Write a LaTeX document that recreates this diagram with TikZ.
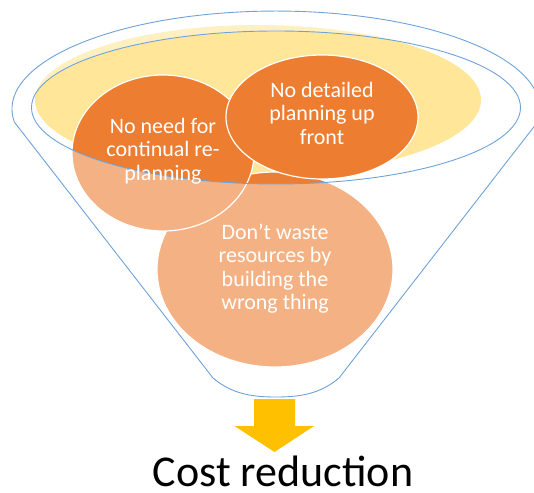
\documentclass[tikz,border=0pt]{standalone}
\usepackage{fontspec}
\setmainfont{Carlito}
\definecolor{accentblue}{RGB}{111,163,216}
\definecolor{deeporange}{RGB}{237,125,49}
\definecolor{paleyellow}{RGB}{255,230,153}
\definecolor{arrowgold}{RGB}{255,192,0}
\begin{document}
\begin{tikzpicture}[x=1pt,y=-1pt,
  bubble/.style={fill=deeporange, draw=white, line width=1.2pt},
  % multi-line labels: the base anchor sits on the last line's baseline
  bubbletext/.style={text=white, align=center, inner sep=0pt, anchor=base,
    font=\fontsize{22}{23.5}\selectfont},
  outline/.style={draw=accentblue, line width=0.9pt},
]
\useasboundingbox (0,0) rectangle (534,492);
\clip (0,0) rectangle (534,492);

% pale backdrop inside the funnel mouth
\fill[paleyellow] (258,100) ellipse [x radius=223, y radius=75];

% bubbles, back to front
\draw[bubble] (275,269.5) ellipse [x radius=118, y radius=97.5];
\draw[bubble] (163,153) ellipse [x radius=91, y radius=78];
\draw[bubble] (322,117) ellipse [x radius=96, y radius=62];

% funnel walls: translucent white with the mouth cut out
\fill[white, fill opacity=0.4, even odd rule]
  (14.3,122) arc[start angle=172.4, end angle=367.6, x radius=264, y radius=98]
  -- (339,378) .. controls (320,394) and (300,397) .. (276,397)
  .. controls (252,397) and (232,394) .. (213,378) -- cycle
  (276,107.5) ellipse [x radius=244.5, y radius=76.5];

% funnel outline and rim
\draw[outline]
  (14.3,122) arc[start angle=172.4, end angle=367.6, x radius=264, y radius=98]
  -- (339,378) .. controls (320,394) and (300,397) .. (276,397)
  .. controls (252,397) and (232,394) .. (213,378) -- cycle;
\draw[outline] (276,107.5) ellipse [x radius=244.5, y radius=76.5];

% bubble labels
\node[bubbletext] (replan) at (163,180.3) {No need for\\continual re-\\planning};
\node[bubbletext] (upfront) at (322,144.3) {No detailed\\planning up\\front};
\node[bubbletext] (waste) at (275,309.8) {Don’t waste\\resources by\\building the\\wrong thing};

% outcome arrow
\fill[arrowgold] (254,399) -- (295,399) -- (295,426) -- (314,426) -- (274.5,452)
  -- (234.5,426) -- (254,426) -- cycle;
\node[anchor=base, inner sep=0pt, font=\fontsize{44}{50}\selectfont] (outcome)
  at (283,486) {Cost reduction};
\end{tikzpicture}
\end{document}
